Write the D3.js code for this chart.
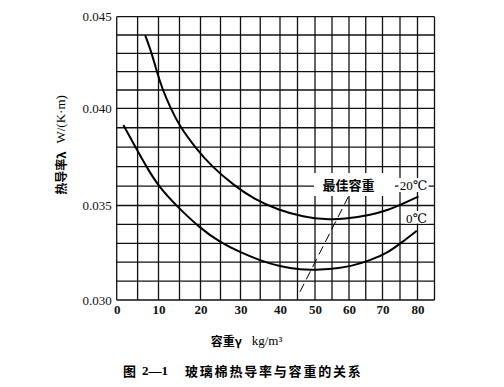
<!DOCTYPE html>
<html><head><meta charset="utf-8">
<script src="https://cdn.jsdelivr.net/npm/d3@7"></script>
<style>
html,body{margin:0;padding:0;background:#fff;}
svg{display:block;}
</style></head>
<body>
<svg id="chart" width="504" height="387"></svg>
<script>
// ---- data ----
const xTicks = [0,10,20,30,40,50,60,70,80];
const yTicks = [0.030,0.035,0.040,0.045];
// 20℃ curve
const density20 = [6.8,8.4,9.6,11.0,12.9,15.1,18.7,22.8,28.6,33.2,39.5,46.7,53.4,58.5,66.3,71.7,76.0,80.3];
const lambda20  = [0.0440,0.0430,0.0420,0.0410,0.0400,0.03905,0.0380,0.0370,0.0360,0.03536,0.03476,0.0344,0.03425,0.03428,0.03449,0.03476,0.03511,0.03546];
// 0℃ curve
const density0 = [1.6,4.5,7.1,9.95,14.3,19.9,24.9,29.9,34.9,40.0,45.7,51.5,57.4,60.3,66.3,71.7,75.5,79.8];
const lambda0  = [0.03914,0.0380,0.0370,0.0360,0.03497,0.0338,0.03305,0.03253,0.03209,0.03177,0.0316,0.0316,0.0317,0.03178,0.03209,0.03252,0.03305,0.03366];
// "最佳容重" leader line (data coords)
const optimumLine = [[45.7,0.03043],[59.8,0.03545]];
const seriesLabels = ["20℃","0℃"];
const optimumLabel = "最佳容重";
const xTitle = ["容重γ","kg/m³"];
const yTitle = ["热导率λ","W/(K·m)"];
const figCaption = ["图","2—1","玻璃棉热导率与容重的关系"];

// ---- layout ----
const svg = d3.select("#chart");
svg.append("rect").attr("width",504).attr("height",387).attr("fill","#fff");

const x = d3.scaleLinear()
  .domain([0,10,20,30,40,50,60,70,80,85])
  .range([116.7,158.5,200.5,240.5,280,315,349,382.5,417.5,434.5]);
const y = d3.scaleLinear()
  .domain([0.030,0.035,0.040,0.045])
  .range([300,205.5,108.3,16.7]);

const serif = "Liberation Serif, Times New Roman, DejaVu Serif, serif";
const cjk = "Noto Sans CJK SC, Noto Sans CJK JP, sans-serif";

// grid
const g = svg.append("g");
const xGrid = d3.range(0,86,5);
const yGrid = d3.range(30,45.5,1).map(v=>v/1000);
g.selectAll(".vx").data(xGrid).join("line")
  .attr("x1",d=>x(d)).attr("x2",d=>x(d))
  .attr("y1",y(0.045)).attr("y2",y(0.030))
  .attr("stroke","#111").attr("stroke-width",1.3);
g.selectAll(".hy").data(yGrid).join("line")
  .attr("x1",x(0)).attr("x2",x(85))
  .attr("y1",d=>y(d)).attr("y2",d=>y(d))
  .attr("stroke","#111").attr("stroke-width",1.3);

// axes (labels only)
const ax = svg.append("g").attr("transform",`translate(0,${y(0.030)})`)
  .call(d3.axisBottom(x).tickValues(xTicks).tickSize(0).tickPadding(5).tickFormat(d3.format("d")));
ax.select(".domain").remove();
ax.attr("font-family",null);
ax.selectAll("text").style("font-family",serif).attr("font-size",13).attr("font-weight","bold").attr("fill","#111");

const ay = svg.append("g").attr("transform",`translate(${x(0)},0)`)
  .call(d3.axisLeft(y).tickValues(yTicks).tickSize(0).tickPadding(5).tickFormat(d3.format(".3f")));
ay.select(".domain").remove();
ay.attr("font-family",null);
ay.selectAll("text").style("font-family",serif).attr("font-size",13).attr("fill","#111");

// curves
const line = d3.line().x(d=>x(d[0])).y(d=>y(d[1])).curve(d3.curveBasis);
const s20 = density20.map((d,i)=>[d,lambda20[i]]);
const s0 = density0.map((d,i)=>[d,lambda0[i]]);
[s20,s0].forEach(s=>{
  svg.append("path").datum(s).attr("d",line)
    .attr("fill","none").attr("stroke","#000").attr("stroke-width",2);
});

// leader line
svg.append("line")
  .attr("x1",x(optimumLine[0][0])).attr("y1",y(optimumLine[0][1]))
  .attr("x2",x(optimumLine[1][0])).attr("y2",y(optimumLine[1][1]))
  .attr("stroke","#000").attr("stroke-width",1).attr("stroke-dasharray","9,5");

// labels with white background
function boxLabel(txt, cx, cy, font, size, weight, bx, by, bw, bh){
  svg.append("rect").attr("x",bx).attr("y",by).attr("width",bw).attr("height",bh).attr("fill","#fff");
  svg.append("text").attr("x",cx).attr("y",cy).attr("text-anchor","middle")
    .attr("dominant-baseline","central").style("font-family",font).attr("font-size",size)
    .attr("font-weight",weight).attr("fill","#000").text(txt);
}
boxLabel(optimumLabel, 348.5, 184.5, cjk, 13, "bold", 314, 173, 81, 23);
boxLabel(seriesLabels[0], 413.5, 185.5, serif, 13, "normal", 398.5, 178, 30, 14);
boxLabel(seriesLabels[1], 416.5, 218.5, serif, 13, "normal", 405, 211, 24, 12.5);

// axis titles
const xt = svg.append("text").attr("x",246.5).attr("y",340).attr("text-anchor","middle")
  .attr("dominant-baseline","central").attr("fill","#000");
xt.append("tspan").style("font-family",cjk).attr("font-size",12).attr("font-weight","bold").text(xTitle[0]);
xt.append("tspan").style("font-family",serif).attr("font-size",13).attr("dx",10).text(xTitle[1]);

const yt = svg.append("text").attr("transform","translate(60,145) rotate(-90)").attr("text-anchor","middle")
  .attr("dominant-baseline","central").attr("fill","#000");
yt.append("tspan").style("font-family",cjk).attr("font-size",12).attr("font-weight","bold").text(yTitle[0]);
yt.append("tspan").style("font-family",serif).attr("font-size",13).attr("dx",8).text(yTitle[1]);

// caption
const cap = svg.append("g").attr("font-weight","bold").attr("fill","#000");
cap.append("text").attr("x",123).attr("y",370).attr("dominant-baseline","central")
  .style("font-family",cjk).attr("font-size",13).text(figCaption[0]);
cap.append("text").attr("x",142).attr("y",370).attr("dominant-baseline","central")
  .style("font-family",serif).attr("font-size",13).text(figCaption[1]);
cap.append("text").attr("x",185).attr("y",370).attr("dominant-baseline","central")
  .style("font-family",cjk).attr("font-size",13).attr("letter-spacing",1.8).text(figCaption[2]);
</script>
</body></html>
